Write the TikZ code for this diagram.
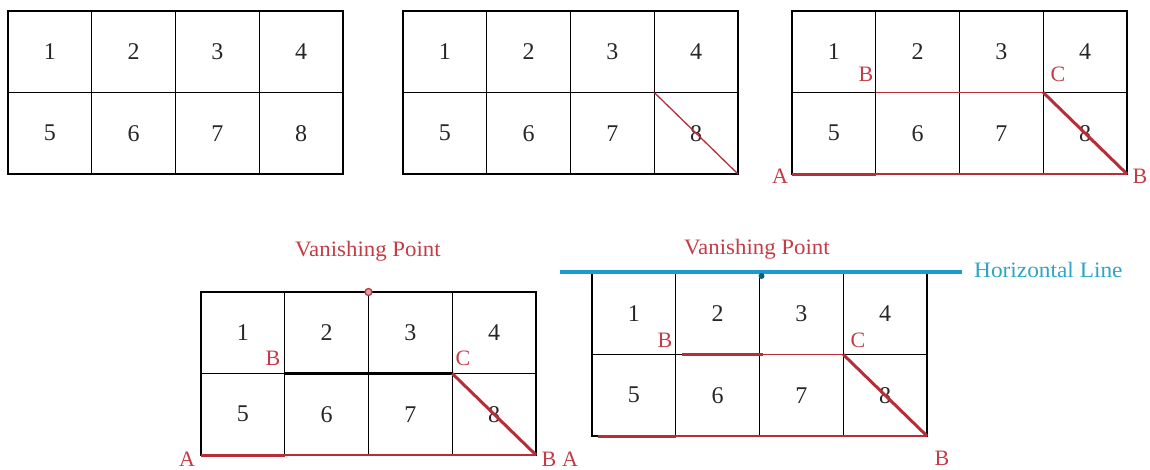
\documentclass[tikz,border=0pt]{standalone}
\usepackage{fontspec}
\usepackage{graphicx}
\setmainfont{Liberation Serif}
\newfontfamily\tnr{Liberation Serif}
\usetikzlibrary{calc}
\definecolor{rl}{RGB}{185,45,55}
\definecolor{rt}{RGB}{195,60,70}
\definecolor{hb}{RGB}{30,155,205}
\definecolor{ht}{RGB}{45,165,195}
\tikzset{
 cell/.style={draw=black, line width=1.2pt, minimum width=83.75pt, minimum height=81.5pt, inner sep=0pt, outer sep=0pt, font=\tnr\fontsize{24}{27}\selectfont, text=black!85},
 thinred/.style={draw=rl, line width=1.3pt},
 thickred/.style={draw=rl, line width=3pt},
 lbl/.style={text=rt, font=\tnr\fontsize{22}{25}\selectfont, inner sep=0pt},
 titletext/.style={text=rt, font=\tnr\fontsize{22}{25}\selectfont, inner sep=0pt},
}
\newcommand\mygrid[3]{%
 \foreach \i in {1,...,4}{%
   \pgfmathtruncatemacro\j{\i+4}%
   \node[cell] (#1c\i) at ({#2+(\i-0.5)*83.75},{#3+40.75}) {\i};
   \node[cell] (#1c\j) at ({#2+(\i-0.5)*83.75},{#3+122.25}) {\j};
 }}
\begin{document}
\begin{tikzpicture}[x=1pt,y=-1pt]
\useasboundingbox (0,0) rectangle (1150,469);
% grids
\mygrid{ga}{8}{11}
\mygrid{gb}{403}{11}
\mygrid{gc}{792}{11}
\mygrid{gd}{201}{292}
\mygrid{ge}{592}{273}
% grid 2
\draw[thinred] (gbc8.north west) -- (gbc8.south east);
% grid 3
\draw[thinred] (gcc6.north west) -- (gcc7.north east);
\draw[thinred] (gcc6.south west) -- (gcc8.south east);
\draw[thickred] (gcc5.south west) -- (gcc5.south east);
\draw[thickred] (gcc8.north west) -- (gcc8.south east);
\node[lbl] (gcB1) at (866,74) {B};
\node[lbl] (gcC) at (1058,74) {C};
\node[lbl] (gcA) at (780,176) {A};
\node[lbl] (gcB2) at (1140,176) {B};
% grid 4
\draw[black, line width=2.6pt] (gdc6.north west) -- (gdc7.north east);
\draw[thinred] (gdc6.south west) -- (gdc8.south east);
\draw[thickred] (gdc5.south west) -- (gdc5.south east);
\draw[thickred] (gdc8.north west) -- (gdc8.south east);
\node[circle, draw=rl, fill=rl!45, line width=1.2pt, minimum size=7pt, inner sep=0pt] (vpd) at (gdc2.north east) {};
\node[titletext] (vpdtext) at (368,251) {\scalebox{1.04}[1]{Vanishing Point}};
\node[lbl] (gdB1) at (273,358) {B};
\node[lbl] (gdC) at (463,358) {C};
\node[lbl] (gdA) at (187,459) {A};
\node[lbl] (gdB2) at (549,459) {B};
% grid 5
\draw[thickred] ($(gec6.north west)+(6,0)$) -- ($(gec6.north east)+(3,0)$);
\draw[thinred] ($(gec6.north east)+(3,0)$) -- (gec7.north east);
\draw[thinred] (gec6.south west) -- (gec8.south east);
\draw[thickred] ($(gec5.south west)+(6,0)$) -- (gec5.south east);
\draw[thickred] (gec8.north west) -- (gec8.south east);
\coordinate (hlL) at (560,272);
\coordinate (hlR) at (962,272);
\draw[hb, line width=3.5pt] (hlL) -- (hlR);
\node[circle, fill=hb!60!black, minimum size=6pt, inner sep=0pt] (vpe) at ($(gec2.north east)+(2,3)$) {};
\node[titletext] (vpetext) at (757,249) {\scalebox{1.04}[1]{Vanishing Point}};
\node[anchor=west, text=ht, font=\tnr\fontsize{22}{25}\selectfont, inner sep=0pt] (hltext) at (974,270) {\scalebox{1.06}[1]{Horizontal Line}};
\node[lbl] (geB1) at (665,340) {B};
\node[lbl] (geC) at (858,340) {C};
\node[lbl] (geA) at (570,459) {A};
\node[lbl] (geB2) at (942,458) {B};
\end{tikzpicture}
\end{document}
